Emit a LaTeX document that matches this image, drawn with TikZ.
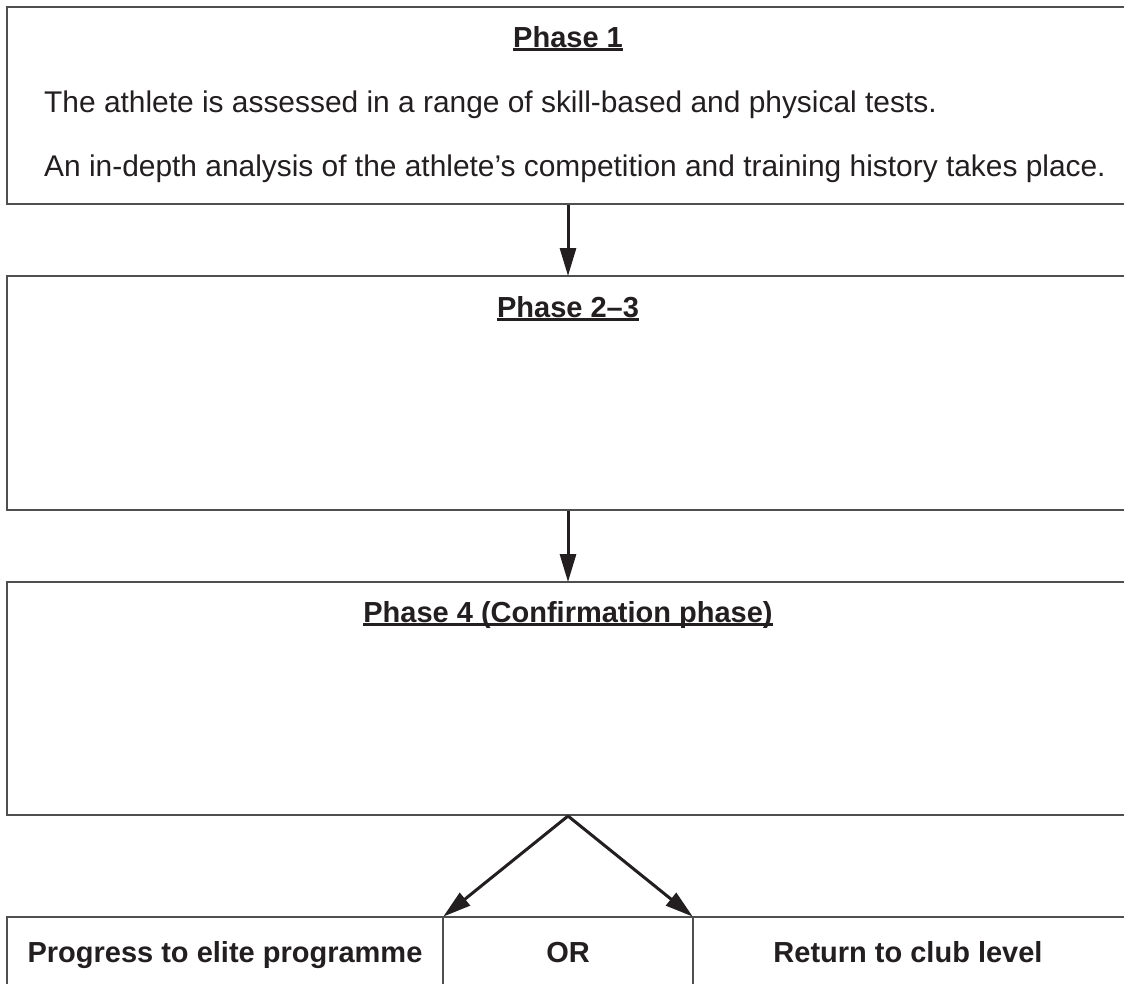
\documentclass[tikz,border=0pt]{standalone}
\usepackage{fontspec}
\setmainfont{Liberation Sans}
\usetikzlibrary{arrows.meta}
\definecolor{ink}{HTML}{231F20}
\definecolor{boxline}{HTML}{4F4F4F}
\newcommand\phaseul[1]{\setbox0\hbox{#1}\rlap{\rule[-3.5pt]{\wd0}{2.2pt}}\box0}
\tikzset{
  panel/.style={draw=boxline, line width=2pt, rectangle, inner sep=0pt},
  body/.style={text=ink, font=\fontsize{29.9}{34}\selectfont, inner sep=0pt, anchor=base west},
  head/.style={text=ink, font=\fontsize{29}{34}\selectfont\bfseries, inner sep=0pt, anchor=base},
  arr/.style={draw=ink, line width=3pt, -{Triangle[length=28pt,width=16pt]}, shorten >=-1pt},
}
\begin{document}
\begin{tikzpicture}[x=1pt,y=-1pt]
\useasboundingbox (0,0) rectangle (1124,983);
\clip (0,0) rectangle (1124,983);
\fill[white] (0,0) rectangle (1124,983);
% boxes
\node[panel, minimum width=1122pt, minimum height=197pt] (box1) at (568,105.5) {};
\node[panel, minimum width=1122pt, minimum height=234pt] (box2) at (568,393) {};
\node[panel, minimum width=1122pt, minimum height=233pt] (box3) at (568,698.5) {};
\node[panel, minimum width=436pt, minimum height=120pt] (left) at (225,977) {};
\node[panel, minimum width=250pt, minimum height=120pt] (mid) at (568,977) {};
\node[panel, minimum width=436pt, minimum height=120pt] (right) at (911,977) {};
% texts
\node[head] (h1) at (568,47) {\phaseul{Phase 1}};
\node[body] (l1) at (44,112) {The athlete is assessed in a range of skill-based and physical tests.};
\node[body] (l2) at (44,176) {An in-depth analysis of the athlete’s competition and training history takes place.};
\node[head] (h2) at (568,317) {\phaseul{Phase 2–3}};
\node[head] (h3) at (568,622) {\phaseul{Phase 4 (Confirmation phase)}};
\node[head] (o1) at (225,962) {Progress to elite programme};
\node[head] (o2) at (568,962) {OR};
\node[head] (o3) at (908,962) {Return to club level};
% connectors
\draw[arr] (box1.south) -- (box2.north);
\draw[arr] (box2.south) -- (box3.north);
\draw[arr] (box3.south) -- (left.north east);
\draw[arr] (box3.south) -- (right.north west);
\end{tikzpicture}
\end{document}
